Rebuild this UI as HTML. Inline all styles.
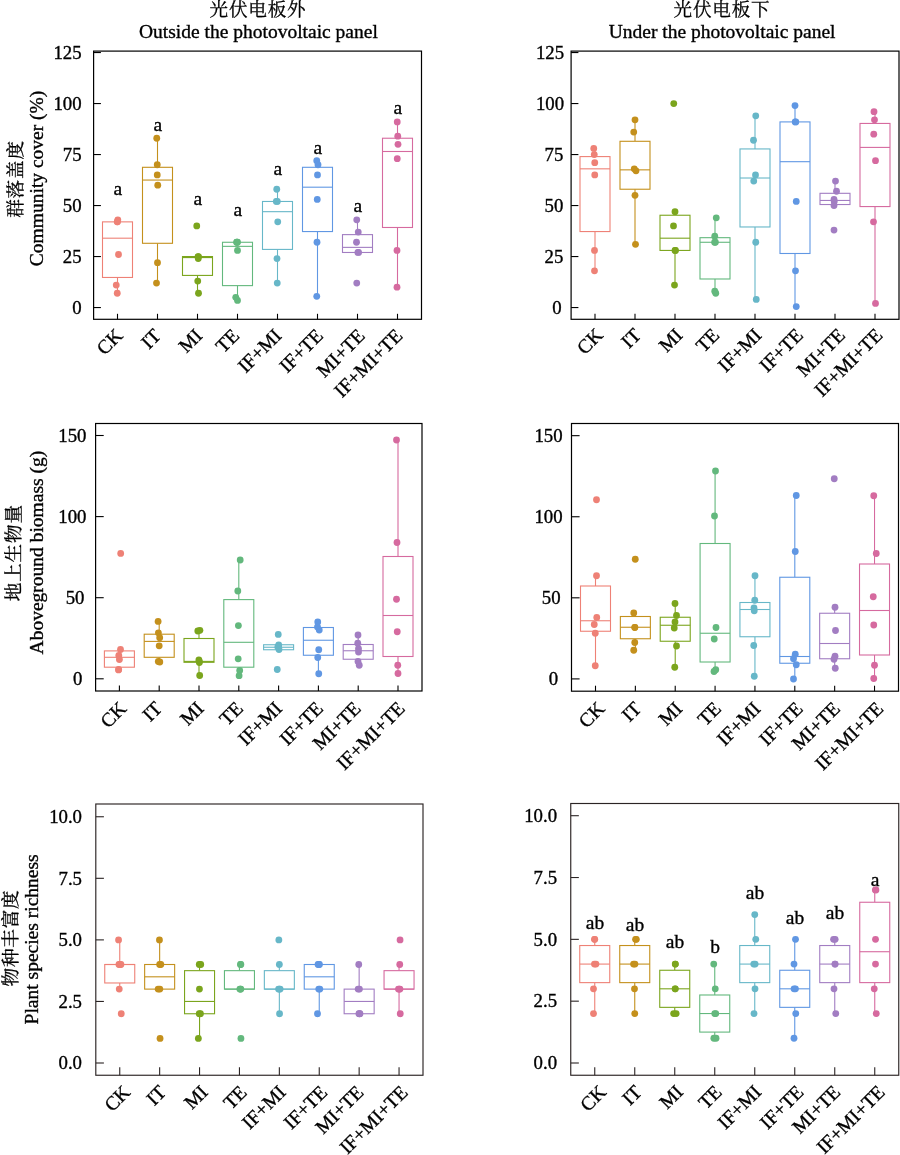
<!DOCTYPE html>
<html lang="zh">
<head>
<meta charset="utf-8">
<title>Boxplots</title>
<style>
html,body{margin:0;padding:0;background:#fff;}
body{width:900px;height:1155px;overflow:hidden;}
svg{display:block;}
text{font-family:"Liberation Serif","Noto Serif CJK SC",serif;font-size:19.5px;fill:#000;stroke:#000;stroke-width:0.35px;}
text.tk{font-size:18.8px;}
text.cn{font-family:"Liberation Serif","Noto Serif CJK SC",serif;font-weight:400;font-size:18.6px;letter-spacing:0.8px;stroke-width:0.3px;}
</style>
</head>
<body>
<svg width="900" height="1155" viewBox="0 0 900 1155">
<rect x="0" y="0" width="900" height="1155" fill="#fff"/>
<g>
<g stroke="#EE8176" fill="none" stroke-width="1.1">
<line x1="117.5" y1="219.83" x2="117.5" y2="221.87"/>
<line x1="117.5" y1="277.46" x2="117.5" y2="293.27"/>
<rect x="102.5" y="221.87" width="30" height="55.59" fill="#fff"/>
<line x1="102.5" y1="238.19" x2="132.5" y2="238.19"/>
</g>
<g fill="#EE8176">
<circle cx="117.8" cy="219.83" r="3.4"/>
<circle cx="117.2" cy="221.87" r="3.4"/>
<circle cx="117.5" cy="221.87" r="3.4"/>
<circle cx="118.5" cy="254.51" r="3.4"/>
<circle cx="116.25" cy="285.11" r="3.4"/>
<circle cx="117.25" cy="293.27" r="3.4"/>
</g>
<g stroke="#C4901C" fill="none" stroke-width="1.1">
<line x1="157.5" y1="138.23" x2="157.5" y2="167.3"/>
<line x1="157.5" y1="243.29" x2="157.5" y2="283.07"/>
<rect x="142.5" y="167.3" width="30" height="75.99" fill="#fff"/>
<line x1="142.5" y1="180.05" x2="172.5" y2="180.05"/>
</g>
<g fill="#C4901C">
<circle cx="156.75" cy="138.23" r="3.4"/>
<circle cx="157.25" cy="164.75" r="3.4"/>
<circle cx="157.25" cy="174.95" r="3.4"/>
<circle cx="157.75" cy="185.15" r="3.4"/>
<circle cx="157.5" cy="262.67" r="3.4"/>
<circle cx="156.5" cy="283.07" r="3.4"/>
</g>
<g stroke="#7BA51D" fill="none" stroke-width="1.1">
<line x1="197.5" y1="275.42" x2="197.5" y2="293.27"/>
<rect x="182.5" y="256.55" width="30" height="18.87" fill="#fff"/>
<line x1="182.5" y1="257.57" x2="212.5" y2="257.57"/>
</g>
<g fill="#7BA51D">
<circle cx="196.75" cy="225.95" r="3.4"/>
<circle cx="198.4" cy="256.55" r="3.4"/>
<circle cx="198.1" cy="256.55" r="3.4"/>
<circle cx="198.25" cy="258.59" r="3.4"/>
<circle cx="197.75" cy="281.03" r="3.4"/>
<circle cx="198.5" cy="293.27" r="3.4"/>
</g>
<g stroke="#63B87D" fill="none" stroke-width="1.1">
<line x1="237.5" y1="285.62" x2="237.5" y2="300.41"/>
<rect x="222.5" y="242.27" width="30" height="43.35" fill="#fff"/>
<line x1="222.5" y1="246.35" x2="252.5" y2="246.35"/>
</g>
<g fill="#63B87D">
<circle cx="236.6" cy="242.27" r="3.4"/>
<circle cx="237.5" cy="242.27" r="3.4"/>
<circle cx="237" cy="242.27" r="3.4"/>
<circle cx="237.5" cy="250.43" r="3.4"/>
<circle cx="235.75" cy="297.35" r="3.4"/>
<circle cx="237.5" cy="300.41" r="3.4"/>
</g>
<g stroke="#67B7C8" fill="none" stroke-width="1.1">
<line x1="277.5" y1="189.23" x2="277.5" y2="201.47"/>
<line x1="277.5" y1="249.41" x2="277.5" y2="283.07"/>
<rect x="262.5" y="201.47" width="30" height="47.94" fill="#fff"/>
<line x1="262.5" y1="211.67" x2="292.5" y2="211.67"/>
</g>
<g fill="#67B7C8">
<circle cx="276.75" cy="189.23" r="3.4"/>
<circle cx="276.3" cy="201.47" r="3.4"/>
<circle cx="277.3" cy="201.47" r="3.4"/>
<circle cx="277.75" cy="221.87" r="3.4"/>
<circle cx="277" cy="258.59" r="3.4"/>
<circle cx="277.25" cy="283.07" r="3.4"/>
</g>
<g stroke="#6097E3" fill="none" stroke-width="1.1">
<line x1="317.5" y1="160.67" x2="317.5" y2="167.3"/>
<line x1="317.5" y1="231.56" x2="317.5" y2="296.33"/>
<rect x="302.5" y="167.3" width="30" height="64.26" fill="#fff"/>
<line x1="302.5" y1="187.19" x2="332.5" y2="187.19"/>
</g>
<g fill="#6097E3">
<circle cx="316.75" cy="160.67" r="3.4"/>
<circle cx="318" cy="164.75" r="3.4"/>
<circle cx="317.5" cy="174.95" r="3.4"/>
<circle cx="317.25" cy="199.43" r="3.4"/>
<circle cx="317" cy="242.27" r="3.4"/>
<circle cx="316.75" cy="296.33" r="3.4"/>
</g>
<g stroke="#A27DC2" fill="none" stroke-width="1.1">
<line x1="357.5" y1="219.83" x2="357.5" y2="234.62"/>
<rect x="342.5" y="234.62" width="30" height="17.85" fill="#fff"/>
<line x1="342.5" y1="247.37" x2="372.5" y2="247.37"/>
</g>
<g fill="#A27DC2">
<circle cx="356.75" cy="219.83" r="3.4"/>
<circle cx="358.25" cy="232.07" r="3.4"/>
<circle cx="356.5" cy="242.27" r="3.4"/>
<circle cx="357.9" cy="252.47" r="3.4"/>
<circle cx="358.6" cy="252.47" r="3.4"/>
<circle cx="356.75" cy="283.07" r="3.4"/>
</g>
<g stroke="#D66A9F" fill="none" stroke-width="1.1">
<line x1="397.5" y1="121.91" x2="397.5" y2="138.23"/>
<line x1="397.5" y1="227.48" x2="397.5" y2="287.15"/>
<rect x="382.5" y="138.23" width="30" height="89.25" fill="#fff"/>
<line x1="382.5" y1="151.49" x2="412.5" y2="151.49"/>
</g>
<g fill="#D66A9F">
<circle cx="397.25" cy="121.91" r="3.4"/>
<circle cx="397.75" cy="136.19" r="3.4"/>
<circle cx="398" cy="144.35" r="3.4"/>
<circle cx="397.25" cy="158.63" r="3.4"/>
<circle cx="397" cy="250.43" r="3.4"/>
<circle cx="397" cy="287.15" r="3.4"/>
</g>
<text x="117.8" y="195" text-anchor="middle">a</text>
<text x="157.8" y="130.5" text-anchor="middle">a</text>
<text x="197.8" y="205" text-anchor="middle">a</text>
<text x="237.8" y="215.75" text-anchor="middle">a</text>
<text x="277.8" y="175" text-anchor="middle">a</text>
<text x="317.8" y="154.25" text-anchor="middle">a</text>
<text x="357.8" y="211.5" text-anchor="middle">a</text>
<text x="397.8" y="113.75" text-anchor="middle">a</text>
<g stroke="#000" stroke-width="1.1" fill="none">
<line x1="93.6" y1="307.55" x2="100.9" y2="307.55"/>
<line x1="93.6" y1="256.55" x2="100.9" y2="256.55"/>
<line x1="93.6" y1="205.55" x2="100.9" y2="205.55"/>
<line x1="93.6" y1="154.55" x2="100.9" y2="154.55"/>
<line x1="93.6" y1="103.55" x2="100.9" y2="103.55"/>
<line x1="93.6" y1="52.55" x2="100.9" y2="52.55"/>
<line x1="117.5" y1="319.3" x2="117.5" y2="313.8"/>
<line x1="157.5" y1="319.3" x2="157.5" y2="313.8"/>
<line x1="197.5" y1="319.3" x2="197.5" y2="313.8"/>
<line x1="237.5" y1="319.3" x2="237.5" y2="313.8"/>
<line x1="277.5" y1="319.3" x2="277.5" y2="313.8"/>
<line x1="317.5" y1="319.3" x2="317.5" y2="313.8"/>
<line x1="357.5" y1="319.3" x2="357.5" y2="313.8"/>
<line x1="397.5" y1="319.3" x2="397.5" y2="313.8"/>
</g>
<rect x="93.6" y="51.1" width="327.9" height="268.2" fill="none" stroke="#000" stroke-width="1.2"/>
<text class="tk" x="81.6" y="313.85" text-anchor="end">0</text>
<text class="tk" x="81.6" y="262.85" text-anchor="end">25</text>
<text class="tk" x="81.6" y="211.85" text-anchor="end">50</text>
<text class="tk" x="81.6" y="160.85" text-anchor="end">75</text>
<text class="tk" x="81.6" y="109.85" text-anchor="end">100</text>
<text class="tk" x="81.6" y="58.85" text-anchor="end">125</text>
<text transform="translate(123.75,336.9) rotate(-45)" text-anchor="end">CK</text>
<text transform="translate(162,336.9) rotate(-45)" text-anchor="end">IT</text>
<text transform="translate(203.4,336.9) rotate(-45)" text-anchor="end">MI</text>
<text transform="translate(240.4,336.9) rotate(-45)" text-anchor="end">TE</text>
<text transform="translate(282.6,336.9) rotate(-45)" text-anchor="end">IF+MI</text>
<text transform="translate(324.1,336.9) rotate(-45)" text-anchor="end">IF+TE</text>
<text transform="translate(366,336.9) rotate(-45)" text-anchor="end">MI+TE</text>
<text transform="translate(403.6,336.9) rotate(-45)" text-anchor="end">IF+MI+TE</text>
<text class="cn" x="258" y="15.9" text-anchor="middle">光伏电板外</text>
<text x="258.4" y="38.3" text-anchor="middle">Outside the photovoltaic panel</text>
<text class="cn" transform="translate(22.3,179) rotate(-90)" text-anchor="middle">群落盖度</text>
<text transform="translate(43.4,178.4) rotate(-90)" text-anchor="middle">Community cover (%)</text>
</g>
<g>
<g stroke="#EE8176" fill="none" stroke-width="1.1">
<line x1="595" y1="148.43" x2="595" y2="156.59"/>
<line x1="595" y1="231.56" x2="595" y2="270.83"/>
<rect x="580" y="156.59" width="30" height="74.97" fill="#fff"/>
<line x1="580" y1="168.83" x2="610" y2="168.83"/>
</g>
<g fill="#EE8176">
<circle cx="593.75" cy="148.43" r="3.4"/>
<circle cx="594.25" cy="154.55" r="3.4"/>
<circle cx="594.75" cy="162.71" r="3.4"/>
<circle cx="594.75" cy="174.95" r="3.4"/>
<circle cx="594.5" cy="250.43" r="3.4"/>
<circle cx="594.5" cy="270.83" r="3.4"/>
</g>
<g stroke="#C4901C" fill="none" stroke-width="1.1">
<line x1="635" y1="119.87" x2="635" y2="141.29"/>
<line x1="635" y1="189.23" x2="635" y2="244.31"/>
<rect x="620" y="141.29" width="30" height="47.94" fill="#fff"/>
<line x1="620" y1="169.85" x2="650" y2="169.85"/>
</g>
<g fill="#C4901C">
<circle cx="635" cy="119.87" r="3.4"/>
<circle cx="633.75" cy="132.11" r="3.4"/>
<circle cx="634.25" cy="168.83" r="3.4"/>
<circle cx="636" cy="170.87" r="3.4"/>
<circle cx="635" cy="195.35" r="3.4"/>
<circle cx="635.5" cy="244.31" r="3.4"/>
</g>
<g stroke="#7BA51D" fill="none" stroke-width="1.1">
<line x1="675" y1="211.67" x2="675" y2="215.24"/>
<line x1="675" y1="250.43" x2="675" y2="285.11"/>
<rect x="660" y="215.24" width="30" height="35.19" fill="#fff"/>
<line x1="660" y1="238.19" x2="690" y2="238.19"/>
</g>
<g fill="#7BA51D">
<circle cx="673.75" cy="103.55" r="3.4"/>
<circle cx="675" cy="211.67" r="3.4"/>
<circle cx="673.5" cy="225.95" r="3.4"/>
<circle cx="675" cy="250.43" r="3.4"/>
<circle cx="675.5" cy="250.43" r="3.4"/>
<circle cx="674.5" cy="285.11" r="3.4"/>
</g>
<g stroke="#63B87D" fill="none" stroke-width="1.1">
<line x1="715" y1="217.79" x2="715" y2="237.68"/>
<line x1="715" y1="278.99" x2="715" y2="293.27"/>
<rect x="700" y="237.68" width="30" height="41.31" fill="#fff"/>
<line x1="700" y1="242.27" x2="730" y2="242.27"/>
</g>
<g fill="#63B87D">
<circle cx="716.25" cy="217.79" r="3.4"/>
<circle cx="714.75" cy="236.15" r="3.4"/>
<circle cx="714.6" cy="242.27" r="3.4"/>
<circle cx="715.4" cy="242.27" r="3.4"/>
<circle cx="714.75" cy="291.23" r="3.4"/>
<circle cx="715.75" cy="293.27" r="3.4"/>
</g>
<g stroke="#67B7C8" fill="none" stroke-width="1.1">
<line x1="755" y1="115.79" x2="755" y2="148.94"/>
<line x1="755" y1="226.97" x2="755" y2="299.39"/>
<rect x="740" y="148.94" width="30" height="78.03" fill="#fff"/>
<line x1="740" y1="178.01" x2="770" y2="178.01"/>
</g>
<g fill="#67B7C8">
<circle cx="755.75" cy="115.79" r="3.4"/>
<circle cx="753.5" cy="140.27" r="3.4"/>
<circle cx="755.5" cy="174.95" r="3.4"/>
<circle cx="753.75" cy="181.07" r="3.4"/>
<circle cx="755.75" cy="242.27" r="3.4"/>
<circle cx="756.25" cy="299.39" r="3.4"/>
</g>
<g stroke="#6097E3" fill="none" stroke-width="1.1">
<line x1="795" y1="105.59" x2="795" y2="121.91"/>
<line x1="795" y1="253.49" x2="795" y2="306.53"/>
<rect x="780" y="121.91" width="30" height="131.58" fill="#fff"/>
<line x1="780" y1="161.69" x2="810" y2="161.69"/>
</g>
<g fill="#6097E3">
<circle cx="795" cy="105.59" r="3.4"/>
<circle cx="795.2" cy="121.91" r="3.4"/>
<circle cx="795.8" cy="121.91" r="3.4"/>
<circle cx="796.25" cy="201.47" r="3.4"/>
<circle cx="795.5" cy="270.83" r="3.4"/>
<circle cx="796.25" cy="306.53" r="3.4"/>
</g>
<g stroke="#A27DC2" fill="none" stroke-width="1.1">
<line x1="835" y1="181.07" x2="835" y2="193.31"/>
<line x1="835" y1="204.53" x2="835" y2="205.55"/>
<rect x="820" y="193.31" width="30" height="11.22" fill="#fff"/>
<line x1="820" y1="200.45" x2="850" y2="200.45"/>
</g>
<g fill="#A27DC2">
<circle cx="835.5" cy="181.07" r="3.4"/>
<circle cx="836.5" cy="191.27" r="3.4"/>
<circle cx="834" cy="199.43" r="3.4"/>
<circle cx="834.25" cy="201.47" r="3.4"/>
<circle cx="834" cy="205.55" r="3.4"/>
<circle cx="834" cy="230.03" r="3.4"/>
</g>
<g stroke="#D66A9F" fill="none" stroke-width="1.1">
<line x1="875" y1="111.71" x2="875" y2="123.44"/>
<line x1="875" y1="206.57" x2="875" y2="303.47"/>
<rect x="860" y="123.44" width="30" height="83.13" fill="#fff"/>
<line x1="860" y1="147.41" x2="890" y2="147.41"/>
</g>
<g fill="#D66A9F">
<circle cx="874" cy="111.71" r="3.4"/>
<circle cx="874.5" cy="119.87" r="3.4"/>
<circle cx="873.75" cy="134.15" r="3.4"/>
<circle cx="875.5" cy="160.67" r="3.4"/>
<circle cx="873.5" cy="221.87" r="3.4"/>
<circle cx="875.5" cy="303.47" r="3.4"/>
</g>
<g stroke="#000" stroke-width="1.1" fill="none">
<line x1="571.1" y1="307.55" x2="578.4" y2="307.55"/>
<line x1="571.1" y1="256.55" x2="578.4" y2="256.55"/>
<line x1="571.1" y1="205.55" x2="578.4" y2="205.55"/>
<line x1="571.1" y1="154.55" x2="578.4" y2="154.55"/>
<line x1="571.1" y1="103.55" x2="578.4" y2="103.55"/>
<line x1="571.1" y1="52.55" x2="578.4" y2="52.55"/>
<line x1="595" y1="319.3" x2="595" y2="313.8"/>
<line x1="635" y1="319.3" x2="635" y2="313.8"/>
<line x1="675" y1="319.3" x2="675" y2="313.8"/>
<line x1="715" y1="319.3" x2="715" y2="313.8"/>
<line x1="755" y1="319.3" x2="755" y2="313.8"/>
<line x1="795" y1="319.3" x2="795" y2="313.8"/>
<line x1="835" y1="319.3" x2="835" y2="313.8"/>
<line x1="875" y1="319.3" x2="875" y2="313.8"/>
</g>
<rect x="571.1" y="51.1" width="327.9" height="268.2" fill="none" stroke="#000" stroke-width="1.2"/>
<text class="tk" x="561.6" y="313.85" text-anchor="end">0</text>
<text class="tk" x="563.3" y="262.85" text-anchor="end">25</text>
<text class="tk" x="563.3" y="211.85" text-anchor="end">50</text>
<text class="tk" x="563.3" y="160.85" text-anchor="end">75</text>
<text class="tk" x="564.1" y="109.85" text-anchor="end">100</text>
<text class="tk" x="564.1" y="58.85" text-anchor="end">125</text>
<text transform="translate(603.85,336.3) rotate(-45)" text-anchor="end">CK</text>
<text transform="translate(642.1,336.3) rotate(-45)" text-anchor="end">IT</text>
<text transform="translate(683.5,336.3) rotate(-45)" text-anchor="end">MI</text>
<text transform="translate(720.5,336.3) rotate(-45)" text-anchor="end">TE</text>
<text transform="translate(762.7,336.3) rotate(-45)" text-anchor="end">IF+MI</text>
<text transform="translate(804.2,336.3) rotate(-45)" text-anchor="end">IF+TE</text>
<text transform="translate(846.1,336.3) rotate(-45)" text-anchor="end">MI+TE</text>
<text transform="translate(883.7,336.3) rotate(-45)" text-anchor="end">IF+MI+TE</text>
<text class="cn" x="722" y="15.9" text-anchor="middle">光伏电板下</text>
<text x="722.1" y="38.3" text-anchor="middle">Under the photovoltaic panel</text>
</g>
<g>
<g stroke="#EE8176" fill="none" stroke-width="1.1">
<line x1="119.4" y1="649.5" x2="119.4" y2="650.9"/>
<line x1="119.4" y1="667.2" x2="119.4" y2="669.8"/>
<rect x="104.4" y="650.9" width="30" height="16.3" fill="#fff"/>
<line x1="104.4" y1="657.3" x2="134.4" y2="657.3"/>
</g>
<g fill="#EE8176">
<circle cx="120.7" cy="553.4" r="3.4"/>
<circle cx="120.5" cy="649.5" r="3.4"/>
<circle cx="118.8" cy="655.5" r="3.4"/>
<circle cx="119.4" cy="659.5" r="3.4"/>
<circle cx="118.5" cy="669.9" r="3.4"/>
<circle cx="118.7" cy="669.5" r="3.4"/>
</g>
<g stroke="#C4901C" fill="none" stroke-width="1.1">
<line x1="159.2" y1="621.4" x2="159.2" y2="634.2"/>
<line x1="159.2" y1="657.3" x2="159.2" y2="661.7"/>
<rect x="144.2" y="634.2" width="30" height="23.1" fill="#fff"/>
<line x1="144.2" y1="641.4" x2="174.2" y2="641.4"/>
</g>
<g fill="#C4901C">
<circle cx="158.1" cy="621.4" r="3.4"/>
<circle cx="158.4" cy="632.8" r="3.4"/>
<circle cx="159.7" cy="637.7" r="3.4"/>
<circle cx="159.2" cy="645.8" r="3.4"/>
<circle cx="158.3" cy="661.5" r="3.4"/>
<circle cx="159.8" cy="662" r="3.4"/>
</g>
<g stroke="#7BA51D" fill="none" stroke-width="1.1">
<line x1="199" y1="630.6" x2="199" y2="638.5"/>
<line x1="199" y1="662.3" x2="199" y2="675.5"/>
<rect x="184" y="638.5" width="30" height="23.8" fill="#fff"/>
<line x1="184" y1="661.4" x2="214" y2="661.4"/>
</g>
<g fill="#7BA51D">
<circle cx="197.8" cy="631" r="3.4"/>
<circle cx="199.9" cy="630.3" r="3.4"/>
<circle cx="198.9" cy="660" r="3.4"/>
<circle cx="199.4" cy="662.5" r="3.4"/>
<circle cx="199.2" cy="661.2" r="3.4"/>
<circle cx="199.7" cy="675.5" r="3.4"/>
</g>
<g stroke="#63B87D" fill="none" stroke-width="1.1">
<line x1="238.8" y1="560" x2="238.8" y2="599.6"/>
<line x1="238.8" y1="667.2" x2="238.8" y2="675.7"/>
<rect x="223.8" y="599.6" width="30" height="67.6" fill="#fff"/>
<line x1="223.8" y1="642.3" x2="253.8" y2="642.3"/>
</g>
<g fill="#63B87D">
<circle cx="240.2" cy="560" r="3.4"/>
<circle cx="237.8" cy="591" r="3.4"/>
<circle cx="238.4" cy="625.6" r="3.4"/>
<circle cx="238.2" cy="658.8" r="3.4"/>
<circle cx="239.7" cy="670.5" r="3.4"/>
<circle cx="239.1" cy="675.7" r="3.4"/>
</g>
<g stroke="#67B7C8" fill="none" stroke-width="1.1">
<rect x="263.6" y="644.75" width="30" height="5" fill="#fff"/>
<line x1="263.6" y1="647.25" x2="293.6" y2="647.25"/>
</g>
<g fill="#67B7C8">
<circle cx="278.25" cy="634.4" r="3.4"/>
<circle cx="278.7" cy="645" r="3.4"/>
<circle cx="277.8" cy="647" r="3.4"/>
<circle cx="279" cy="649.5" r="3.4"/>
<circle cx="278.5" cy="646.5" r="3.4"/>
<circle cx="277.25" cy="669.5" r="3.4"/>
</g>
<g stroke="#6097E3" fill="none" stroke-width="1.1">
<line x1="318.4" y1="622" x2="318.4" y2="627.5"/>
<line x1="318.4" y1="655.25" x2="318.4" y2="673.75"/>
<rect x="303.4" y="627.5" width="30" height="27.75" fill="#fff"/>
<line x1="303.4" y1="640.25" x2="333.4" y2="640.25"/>
</g>
<g fill="#6097E3">
<circle cx="317.75" cy="622" r="3.4"/>
<circle cx="317.5" cy="627" r="3.4"/>
<circle cx="319.25" cy="630" r="3.4"/>
<circle cx="318.75" cy="649.75" r="3.4"/>
<circle cx="317.75" cy="657.5" r="3.4"/>
<circle cx="318.75" cy="673.75" r="3.4"/>
</g>
<g stroke="#A27DC2" fill="none" stroke-width="1.1">
<line x1="358.2" y1="635" x2="358.2" y2="644.5"/>
<line x1="358.2" y1="659.25" x2="358.2" y2="665.25"/>
<rect x="343.2" y="644.5" width="30" height="14.75" fill="#fff"/>
<line x1="343.2" y1="650.75" x2="373.2" y2="650.75"/>
</g>
<g fill="#A27DC2">
<circle cx="358" cy="635" r="3.4"/>
<circle cx="357.75" cy="643.25" r="3.4"/>
<circle cx="358.5" cy="648.75" r="3.4"/>
<circle cx="358.5" cy="652" r="3.4"/>
<circle cx="358" cy="661.5" r="3.4"/>
<circle cx="359.25" cy="665.25" r="3.4"/>
</g>
<g stroke="#D66A9F" fill="none" stroke-width="1.1">
<line x1="398" y1="440" x2="398" y2="556.5"/>
<line x1="398" y1="656.5" x2="398" y2="673.5"/>
<rect x="383" y="556.5" width="30" height="100" fill="#fff"/>
<line x1="383" y1="615.5" x2="413" y2="615.5"/>
</g>
<g fill="#D66A9F">
<circle cx="396.5" cy="440" r="3.4"/>
<circle cx="397" cy="542.5" r="3.4"/>
<circle cx="396.5" cy="599.25" r="3.4"/>
<circle cx="397.25" cy="631.75" r="3.4"/>
<circle cx="397.75" cy="665.25" r="3.4"/>
<circle cx="398" cy="673.5" r="3.4"/>
</g>
<g stroke="#000" stroke-width="1.1" fill="none">
<line x1="95.6" y1="678.8" x2="103.7" y2="678.8"/>
<line x1="95.6" y1="597.7" x2="103.7" y2="597.7"/>
<line x1="95.6" y1="516.6" x2="103.7" y2="516.6"/>
<line x1="95.6" y1="435.5" x2="103.7" y2="435.5"/>
<line x1="119.4" y1="691" x2="119.4" y2="685.5"/>
<line x1="159.2" y1="691" x2="159.2" y2="685.5"/>
<line x1="199" y1="691" x2="199" y2="685.5"/>
<line x1="238.8" y1="691" x2="238.8" y2="685.5"/>
<line x1="278.6" y1="691" x2="278.6" y2="685.5"/>
<line x1="318.4" y1="691" x2="318.4" y2="685.5"/>
<line x1="358.2" y1="691" x2="358.2" y2="685.5"/>
<line x1="398" y1="691" x2="398" y2="685.5"/>
</g>
<rect x="95.6" y="423.5" width="326.4" height="267.5" fill="none" stroke="#000" stroke-width="1.2"/>
<text class="tk" x="82.3" y="685.1" text-anchor="end">0</text>
<text class="tk" x="84.5" y="604" text-anchor="end">50</text>
<text class="tk" x="86.5" y="522.9" text-anchor="end">100</text>
<text class="tk" x="86.5" y="441.8" text-anchor="end">150</text>
<text transform="translate(127.35,709.9) rotate(-45)" text-anchor="end">CK</text>
<text transform="translate(163.2,709.6) rotate(-45)" text-anchor="end">IT</text>
<text transform="translate(204.9,709.6) rotate(-45)" text-anchor="end">MI</text>
<text transform="translate(244.2,709.6) rotate(-45)" text-anchor="end">TE</text>
<text transform="translate(283,709.6) rotate(-45)" text-anchor="end">IF+MI</text>
<text transform="translate(324.3,709.6) rotate(-45)" text-anchor="end">IF+TE</text>
<text transform="translate(362,709.6) rotate(-45)" text-anchor="end">MI+TE</text>
<text transform="translate(406,709.6) rotate(-45)" text-anchor="end">IF+MI+TE</text>
<text class="cn" transform="translate(20,552.7) rotate(-90)" text-anchor="middle">地上生物量</text>
<text transform="translate(42.7,552.6) rotate(-90)" text-anchor="middle">Aboveground biomass (g)</text>
</g>
<g>
<g stroke="#EE8176" fill="none" stroke-width="1.1">
<line x1="595.5" y1="575.75" x2="595.5" y2="586"/>
<line x1="595.5" y1="631.25" x2="595.5" y2="665.75"/>
<rect x="580.5" y="586" width="30" height="45.25" fill="#fff"/>
<line x1="580.5" y1="620.75" x2="610.5" y2="620.75"/>
</g>
<g fill="#EE8176">
<circle cx="596.5" cy="499.75" r="3.4"/>
<circle cx="596.5" cy="575.75" r="3.4"/>
<circle cx="596.75" cy="617.5" r="3.4"/>
<circle cx="594.25" cy="624.5" r="3.4"/>
<circle cx="595.25" cy="633.25" r="3.4"/>
<circle cx="595.25" cy="665.75" r="3.4"/>
</g>
<g stroke="#C4901C" fill="none" stroke-width="1.1">
<line x1="635.36" y1="613" x2="635.36" y2="616.5"/>
<line x1="635.36" y1="638.75" x2="635.36" y2="650.25"/>
<rect x="620.36" y="616.5" width="30" height="22.25" fill="#fff"/>
<line x1="620.36" y1="627.25" x2="650.36" y2="627.25"/>
</g>
<g fill="#C4901C">
<circle cx="635.25" cy="559.25" r="3.4"/>
<circle cx="633.75" cy="613" r="3.4"/>
<circle cx="634.75" cy="627.5" r="3.4"/>
<circle cx="634.9" cy="627.3" r="3.4"/>
<circle cx="634.75" cy="642.5" r="3.4"/>
<circle cx="633.75" cy="650.25" r="3.4"/>
</g>
<g stroke="#7BA51D" fill="none" stroke-width="1.1">
<line x1="675.22" y1="603.5" x2="675.22" y2="617.25"/>
<line x1="675.22" y1="641.25" x2="675.22" y2="667.25"/>
<rect x="660.22" y="617.25" width="30" height="24" fill="#fff"/>
<line x1="660.22" y1="625.25" x2="690.22" y2="625.25"/>
</g>
<g fill="#7BA51D">
<circle cx="675" cy="603.5" r="3.4"/>
<circle cx="676.5" cy="615.5" r="3.4"/>
<circle cx="675" cy="622" r="3.4"/>
<circle cx="674.25" cy="628" r="3.4"/>
<circle cx="676.5" cy="646" r="3.4"/>
<circle cx="674.75" cy="667.25" r="3.4"/>
</g>
<g stroke="#63B87D" fill="none" stroke-width="1.1">
<line x1="715.08" y1="471" x2="715.08" y2="543.5"/>
<line x1="715.08" y1="662" x2="715.08" y2="670.75"/>
<rect x="700.08" y="543.5" width="30" height="118.5" fill="#fff"/>
<line x1="700.08" y1="633.25" x2="730.08" y2="633.25"/>
</g>
<g fill="#63B87D">
<circle cx="715.5" cy="471" r="3.4"/>
<circle cx="714.5" cy="516" r="3.4"/>
<circle cx="716" cy="627.5" r="3.4"/>
<circle cx="714.25" cy="639" r="3.4"/>
<circle cx="715.75" cy="669.75" r="3.4"/>
<circle cx="714" cy="671.5" r="3.4"/>
</g>
<g stroke="#67B7C8" fill="none" stroke-width="1.1">
<line x1="754.94" y1="575.75" x2="754.94" y2="602.5"/>
<line x1="754.94" y1="636.75" x2="754.94" y2="676.25"/>
<rect x="739.94" y="602.5" width="30" height="34.25" fill="#fff"/>
<line x1="739.94" y1="609.5" x2="769.94" y2="609.5"/>
</g>
<g fill="#67B7C8">
<circle cx="755" cy="575.75" r="3.4"/>
<circle cx="754.75" cy="600.25" r="3.4"/>
<circle cx="754" cy="608" r="3.4"/>
<circle cx="754.25" cy="610.75" r="3.4"/>
<circle cx="753.75" cy="645.5" r="3.4"/>
<circle cx="754.25" cy="676.25" r="3.4"/>
</g>
<g stroke="#6097E3" fill="none" stroke-width="1.1">
<line x1="794.8" y1="495.5" x2="794.8" y2="577.25"/>
<line x1="794.8" y1="663.25" x2="794.8" y2="679"/>
<rect x="779.8" y="577.25" width="30" height="86" fill="#fff"/>
<line x1="779.8" y1="656.5" x2="809.8" y2="656.5"/>
</g>
<g fill="#6097E3">
<circle cx="796.25" cy="495.5" r="3.4"/>
<circle cx="795.25" cy="551.5" r="3.4"/>
<circle cx="795.25" cy="654.25" r="3.4"/>
<circle cx="793.5" cy="658.75" r="3.4"/>
<circle cx="796.25" cy="664.75" r="3.4"/>
<circle cx="793.5" cy="679" r="3.4"/>
</g>
<g stroke="#A27DC2" fill="none" stroke-width="1.1">
<line x1="834.66" y1="607.25" x2="834.66" y2="613.25"/>
<line x1="834.66" y1="658.75" x2="834.66" y2="668.25"/>
<rect x="819.66" y="613.25" width="30" height="45.5" fill="#fff"/>
<line x1="819.66" y1="643.5" x2="849.66" y2="643.5"/>
</g>
<g fill="#A27DC2">
<circle cx="834.25" cy="478.75" r="3.4"/>
<circle cx="835" cy="607.25" r="3.4"/>
<circle cx="835.5" cy="630.5" r="3.4"/>
<circle cx="835" cy="656.25" r="3.4"/>
<circle cx="834" cy="659.25" r="3.4"/>
<circle cx="835.25" cy="668.25" r="3.4"/>
</g>
<g stroke="#D66A9F" fill="none" stroke-width="1.1">
<line x1="874.52" y1="495.75" x2="874.52" y2="564"/>
<line x1="874.52" y1="655" x2="874.52" y2="678.5"/>
<rect x="859.52" y="564" width="30" height="91" fill="#fff"/>
<line x1="859.52" y1="610.5" x2="889.52" y2="610.5"/>
</g>
<g fill="#D66A9F">
<circle cx="873.75" cy="495.75" r="3.4"/>
<circle cx="876.25" cy="553.5" r="3.4"/>
<circle cx="873.25" cy="596.75" r="3.4"/>
<circle cx="873.75" cy="625" r="3.4"/>
<circle cx="874.5" cy="665.25" r="3.4"/>
<circle cx="873.75" cy="678.5" r="3.4"/>
</g>
<g stroke="#000" stroke-width="1.1" fill="none">
<line x1="571.5" y1="678.9" x2="579.6" y2="678.9"/>
<line x1="571.5" y1="597.82" x2="579.6" y2="597.82"/>
<line x1="571.5" y1="516.75" x2="579.6" y2="516.75"/>
<line x1="571.5" y1="435.67" x2="579.6" y2="435.67"/>
<line x1="595.5" y1="691.2" x2="595.5" y2="685.7"/>
<line x1="635.36" y1="691.2" x2="635.36" y2="685.7"/>
<line x1="675.22" y1="691.2" x2="675.22" y2="685.7"/>
<line x1="715.08" y1="691.2" x2="715.08" y2="685.7"/>
<line x1="754.94" y1="691.2" x2="754.94" y2="685.7"/>
<line x1="794.8" y1="691.2" x2="794.8" y2="685.7"/>
<line x1="834.66" y1="691.2" x2="834.66" y2="685.7"/>
<line x1="874.52" y1="691.2" x2="874.52" y2="685.7"/>
</g>
<rect x="571.5" y="423.5" width="327" height="267.7" fill="none" stroke="#000" stroke-width="1.2"/>
<text class="tk" x="558.2" y="685.2" text-anchor="end">0</text>
<text class="tk" x="560.6" y="604.12" text-anchor="end">50</text>
<text class="tk" x="562.6" y="523.05" text-anchor="end">100</text>
<text class="tk" x="562.6" y="441.97" text-anchor="end">150</text>
<text transform="translate(605.65,709.8) rotate(-45)" text-anchor="end">CK</text>
<text transform="translate(642.46,709.8) rotate(-45)" text-anchor="end">IT</text>
<text transform="translate(683.32,709.8) rotate(-45)" text-anchor="end">MI</text>
<text transform="translate(722.28,709.8) rotate(-45)" text-anchor="end">TE</text>
<text transform="translate(761.54,709.8) rotate(-45)" text-anchor="end">IF+MI</text>
<text transform="translate(804,709.8) rotate(-45)" text-anchor="end">IF+TE</text>
<text transform="translate(841.06,709.8) rotate(-45)" text-anchor="end">MI+TE</text>
<text transform="translate(884.52,709.8) rotate(-45)" text-anchor="end">IF+MI+TE</text>
</g>
<g>
<g stroke="#EE8176" fill="none" stroke-width="1.1">
<line x1="119.75" y1="939.88" x2="119.75" y2="964.5"/>
<line x1="119.75" y1="982.97" x2="119.75" y2="989.12"/>
<rect x="104.75" y="964.5" width="30" height="18.47" fill="#fff"/>
<line x1="104.75" y1="964.5" x2="134.75" y2="964.5"/>
</g>
<g fill="#EE8176">
<circle cx="118.55" cy="939.88" r="3.4"/>
<circle cx="118.95" cy="964.5" r="3.4"/>
<circle cx="120.95" cy="964.5" r="3.4"/>
<circle cx="119.95" cy="964.5" r="3.4"/>
<circle cx="119.25" cy="989.12" r="3.4"/>
<circle cx="121.25" cy="1013.75" r="3.4"/>
</g>
<g stroke="#C4901C" fill="none" stroke-width="1.1">
<line x1="159.65" y1="939.88" x2="159.65" y2="964.5"/>
<rect x="144.65" y="964.5" width="30" height="24.62" fill="#fff"/>
<line x1="144.65" y1="976.81" x2="174.65" y2="976.81"/>
</g>
<g fill="#C4901C">
<circle cx="159.45" cy="939.88" r="3.4"/>
<circle cx="159.65" cy="964.5" r="3.4"/>
<circle cx="160.85" cy="964.5" r="3.4"/>
<circle cx="158.15" cy="989.12" r="3.4"/>
<circle cx="159.85" cy="989.12" r="3.4"/>
<circle cx="160.05" cy="1038.38" r="3.4"/>
</g>
<g stroke="#7BA51D" fill="none" stroke-width="1.1">
<line x1="199.55" y1="964.5" x2="199.55" y2="970.66"/>
<line x1="199.55" y1="1013.75" x2="199.55" y2="1038.38"/>
<rect x="184.55" y="970.66" width="30" height="43.09" fill="#fff"/>
<line x1="184.55" y1="1001.44" x2="214.55" y2="1001.44"/>
</g>
<g fill="#7BA51D">
<circle cx="199.25" cy="964.5" r="3.4"/>
<circle cx="200.75" cy="964.5" r="3.4"/>
<circle cx="199.45" cy="989.12" r="3.4"/>
<circle cx="199.25" cy="1013.75" r="3.4"/>
<circle cx="200.45" cy="1013.75" r="3.4"/>
<circle cx="198.35" cy="1038.38" r="3.4"/>
</g>
<g stroke="#63B87D" fill="none" stroke-width="1.1">
<line x1="239.45" y1="964.5" x2="239.45" y2="970.66"/>
<rect x="224.45" y="970.66" width="30" height="18.47" fill="#fff"/>
<line x1="224.45" y1="989.12" x2="254.45" y2="989.12"/>
</g>
<g fill="#63B87D">
<circle cx="240.45" cy="964.5" r="3.4"/>
<circle cx="240.85" cy="964.5" r="3.4"/>
<circle cx="239.85" cy="989.12" r="3.4"/>
<circle cx="240.85" cy="989.12" r="3.4"/>
<circle cx="240.45" cy="989.12" r="3.4"/>
<circle cx="240.95" cy="1038.38" r="3.4"/>
</g>
<g stroke="#67B7C8" fill="none" stroke-width="1.1">
<line x1="279.35" y1="964.5" x2="279.35" y2="970.66"/>
<line x1="279.35" y1="989.12" x2="279.35" y2="1013.75"/>
<rect x="264.35" y="970.66" width="30" height="18.47" fill="#fff"/>
<line x1="264.35" y1="989.12" x2="294.35" y2="989.12"/>
</g>
<g fill="#67B7C8">
<circle cx="278.85" cy="939.88" r="3.4"/>
<circle cx="279.35" cy="964.5" r="3.4"/>
<circle cx="278.55" cy="989.12" r="3.4"/>
<circle cx="280.15" cy="989.12" r="3.4"/>
<circle cx="279.35" cy="989.12" r="3.4"/>
<circle cx="279.55" cy="1013.75" r="3.4"/>
</g>
<g stroke="#6097E3" fill="none" stroke-width="1.1">
<line x1="319.25" y1="989.12" x2="319.25" y2="1013.75"/>
<rect x="304.25" y="964.5" width="30" height="24.62" fill="#fff"/>
<line x1="304.25" y1="976.81" x2="334.25" y2="976.81"/>
</g>
<g fill="#6097E3">
<circle cx="318.05" cy="964.5" r="3.4"/>
<circle cx="319.45" cy="964.5" r="3.4"/>
<circle cx="318.85" cy="964.5" r="3.4"/>
<circle cx="318.75" cy="989.12" r="3.4"/>
<circle cx="319.85" cy="989.12" r="3.4"/>
<circle cx="317.5" cy="1013.75" r="3.4"/>
</g>
<g stroke="#A27DC2" fill="none" stroke-width="1.1">
<line x1="359.15" y1="964.5" x2="359.15" y2="989.12"/>
<rect x="344.15" y="989.12" width="30" height="24.62" fill="#fff"/>
<line x1="344.15" y1="1001.44" x2="374.15" y2="1001.44"/>
</g>
<g fill="#A27DC2">
<circle cx="358.75" cy="964.5" r="3.4"/>
<circle cx="358.15" cy="989.12" r="3.4"/>
<circle cx="359.45" cy="989.12" r="3.4"/>
<circle cx="359.95" cy="1013.75" r="3.4"/>
<circle cx="358.95" cy="1013.75" r="3.4"/>
<circle cx="359.55" cy="1013.75" r="3.4"/>
</g>
<g stroke="#D66A9F" fill="none" stroke-width="1.1">
<line x1="399.05" y1="964.5" x2="399.05" y2="970.66"/>
<line x1="399.05" y1="989.12" x2="399.05" y2="1013.75"/>
<rect x="384.05" y="970.66" width="30" height="18.47" fill="#fff"/>
<line x1="384.05" y1="989.12" x2="414.05" y2="989.12"/>
</g>
<g fill="#D66A9F">
<circle cx="400.05" cy="939.88" r="3.4"/>
<circle cx="399.75" cy="964.5" r="3.4"/>
<circle cx="398.45" cy="989.12" r="3.4"/>
<circle cx="399.95" cy="989.12" r="3.4"/>
<circle cx="399.25" cy="989.12" r="3.4"/>
<circle cx="400.25" cy="1013.75" r="3.4"/>
</g>
<g stroke="#2b2424" stroke-width="1.1" fill="none">
<line x1="95.8" y1="1063" x2="103.9" y2="1063"/>
<line x1="95.8" y1="1001.44" x2="103.9" y2="1001.44"/>
<line x1="95.8" y1="939.88" x2="103.9" y2="939.88"/>
<line x1="95.8" y1="878.31" x2="103.9" y2="878.31"/>
<line x1="95.8" y1="816.75" x2="103.9" y2="816.75"/>
<line x1="119.75" y1="1075.25" x2="119.75" y2="1067.15"/>
<line x1="159.65" y1="1075.25" x2="159.65" y2="1067.15"/>
<line x1="199.55" y1="1075.25" x2="199.55" y2="1067.15"/>
<line x1="239.45" y1="1075.25" x2="239.45" y2="1067.15"/>
<line x1="279.35" y1="1075.25" x2="279.35" y2="1067.15"/>
<line x1="319.25" y1="1075.25" x2="319.25" y2="1067.15"/>
<line x1="359.15" y1="1075.25" x2="359.15" y2="1067.15"/>
<line x1="399.05" y1="1075.25" x2="399.05" y2="1067.15"/>
</g>
<rect x="95.8" y="804" width="327.2" height="271.25" fill="none" stroke="#2b2424" stroke-width="1.15"/>
<text class="tk" x="82" y="1069.3" text-anchor="end">0.0</text>
<text class="tk" x="82" y="1007.74" text-anchor="end">2.5</text>
<text class="tk" x="82" y="946.17" text-anchor="end">5.0</text>
<text class="tk" x="82" y="884.61" text-anchor="end">7.5</text>
<text class="tk" x="82" y="823.05" text-anchor="end">10.0</text>
<text transform="translate(131.3,1093.45) rotate(-45)" text-anchor="end">CK</text>
<text transform="translate(167.15,1093.45) rotate(-45)" text-anchor="end">IT</text>
<text transform="translate(208.85,1093.45) rotate(-45)" text-anchor="end">MI</text>
<text transform="translate(248.05,1093.45) rotate(-45)" text-anchor="end">TE</text>
<text transform="translate(286.75,1093.45) rotate(-45)" text-anchor="end">IF+MI</text>
<text transform="translate(328.45,1093.45) rotate(-45)" text-anchor="end">IF+TE</text>
<text transform="translate(364.65,1093.45) rotate(-45)" text-anchor="end">MI+TE</text>
<text transform="translate(408.95,1093.45) rotate(-45)" text-anchor="end">IF+MI+TE</text>
<text class="cn" transform="translate(16.5,938) rotate(-90)" text-anchor="middle">物种丰富度</text>
<text transform="translate(37.7,939.4) rotate(-90)" text-anchor="middle">Plant species richness</text>
</g>
<g>
<g stroke="#EE8176" fill="none" stroke-width="1.1">
<line x1="594.75" y1="939.35" x2="594.75" y2="945.53"/>
<line x1="594.75" y1="982.63" x2="594.75" y2="1013.54"/>
<rect x="579.75" y="945.53" width="30" height="37.1" fill="#fff"/>
<line x1="579.75" y1="964.08" x2="609.75" y2="964.08"/>
</g>
<g fill="#EE8176">
<circle cx="594.5" cy="939.35" r="3.4"/>
<circle cx="594.75" cy="939.35" r="3.4"/>
<circle cx="594.45" cy="964.08" r="3.4"/>
<circle cx="595.95" cy="964.08" r="3.4"/>
<circle cx="593.5" cy="988.81" r="3.4"/>
<circle cx="593.5" cy="1013.54" r="3.4"/>
</g>
<g stroke="#C4901C" fill="none" stroke-width="1.1">
<line x1="634.75" y1="939.35" x2="634.75" y2="945.53"/>
<line x1="634.75" y1="982.63" x2="634.75" y2="1013.54"/>
<rect x="619.75" y="945.53" width="30" height="37.1" fill="#fff"/>
<line x1="619.75" y1="964.08" x2="649.75" y2="964.08"/>
</g>
<g fill="#C4901C">
<circle cx="635.55" cy="939.35" r="3.4"/>
<circle cx="636.35" cy="939.35" r="3.4"/>
<circle cx="633.55" cy="964.08" r="3.4"/>
<circle cx="634.95" cy="964.08" r="3.4"/>
<circle cx="634.5" cy="988.81" r="3.4"/>
<circle cx="634.75" cy="1013.54" r="3.4"/>
</g>
<g stroke="#7BA51D" fill="none" stroke-width="1.1">
<line x1="674.75" y1="964.08" x2="674.75" y2="970.26"/>
<line x1="674.75" y1="1007.36" x2="674.75" y2="1013.54"/>
<rect x="659.75" y="970.26" width="30" height="37.09" fill="#fff"/>
<line x1="659.75" y1="988.81" x2="689.75" y2="988.81"/>
</g>
<g fill="#7BA51D">
<circle cx="675.25" cy="964.08" r="3.4"/>
<circle cx="675.35" cy="964.08" r="3.4"/>
<circle cx="675.25" cy="988.81" r="3.4"/>
<circle cx="675.15" cy="988.81" r="3.4"/>
<circle cx="673.65" cy="1013.54" r="3.4"/>
<circle cx="676.15" cy="1013.54" r="3.4"/>
</g>
<g stroke="#63B87D" fill="none" stroke-width="1.1">
<line x1="714.75" y1="964.08" x2="714.75" y2="994.99"/>
<line x1="714.75" y1="1032.09" x2="714.75" y2="1038.27"/>
<rect x="699.75" y="994.99" width="30" height="37.1" fill="#fff"/>
<line x1="699.75" y1="1013.54" x2="729.75" y2="1013.54"/>
</g>
<g fill="#63B87D">
<circle cx="713.75" cy="964.08" r="3.4"/>
<circle cx="715.25" cy="988.81" r="3.4"/>
<circle cx="714.75" cy="1013.54" r="3.4"/>
<circle cx="715.75" cy="1013.54" r="3.4"/>
<circle cx="713.85" cy="1038.27" r="3.4"/>
<circle cx="716.05" cy="1038.27" r="3.4"/>
</g>
<g stroke="#67B7C8" fill="none" stroke-width="1.1">
<line x1="754.75" y1="914.62" x2="754.75" y2="945.53"/>
<line x1="754.75" y1="982.63" x2="754.75" y2="1013.54"/>
<rect x="739.75" y="945.53" width="30" height="37.1" fill="#fff"/>
<line x1="739.75" y1="964.08" x2="769.75" y2="964.08"/>
</g>
<g fill="#67B7C8">
<circle cx="754.75" cy="914.62" r="3.4"/>
<circle cx="755.75" cy="939.35" r="3.4"/>
<circle cx="753.75" cy="964.08" r="3.4"/>
<circle cx="755.15" cy="964.08" r="3.4"/>
<circle cx="755" cy="988.81" r="3.4"/>
<circle cx="754" cy="1013.54" r="3.4"/>
</g>
<g stroke="#6097E3" fill="none" stroke-width="1.1">
<line x1="794.75" y1="939.35" x2="794.75" y2="970.26"/>
<line x1="794.75" y1="1007.36" x2="794.75" y2="1038.27"/>
<rect x="779.75" y="970.26" width="30" height="37.09" fill="#fff"/>
<line x1="779.75" y1="988.81" x2="809.75" y2="988.81"/>
</g>
<g fill="#6097E3">
<circle cx="795.5" cy="939.35" r="3.4"/>
<circle cx="794" cy="964.08" r="3.4"/>
<circle cx="794.05" cy="988.81" r="3.4"/>
<circle cx="795.45" cy="988.81" r="3.4"/>
<circle cx="795.75" cy="1013.54" r="3.4"/>
<circle cx="794" cy="1038.27" r="3.4"/>
</g>
<g stroke="#A27DC2" fill="none" stroke-width="1.1">
<line x1="834.75" y1="939.35" x2="834.75" y2="945.53"/>
<line x1="834.75" y1="982.63" x2="834.75" y2="1013.54"/>
<rect x="819.75" y="945.53" width="30" height="37.1" fill="#fff"/>
<line x1="819.75" y1="964.08" x2="849.75" y2="964.08"/>
</g>
<g fill="#A27DC2">
<circle cx="833.55" cy="939.35" r="3.4"/>
<circle cx="835.15" cy="939.35" r="3.4"/>
<circle cx="835" cy="964.08" r="3.4"/>
<circle cx="835.05" cy="964.08" r="3.4"/>
<circle cx="834" cy="988.81" r="3.4"/>
<circle cx="835.75" cy="1013.54" r="3.4"/>
</g>
<g stroke="#D66A9F" fill="none" stroke-width="1.1">
<line x1="874.75" y1="889.89" x2="874.75" y2="902.25"/>
<line x1="874.75" y1="982.63" x2="874.75" y2="1013.54"/>
<rect x="859.75" y="902.25" width="30" height="80.37" fill="#fff"/>
<line x1="859.75" y1="951.72" x2="889.75" y2="951.72"/>
</g>
<g fill="#D66A9F">
<circle cx="875.35" cy="889.89" r="3.4"/>
<circle cx="875.95" cy="889.89" r="3.4"/>
<circle cx="875.5" cy="939.35" r="3.4"/>
<circle cx="875.5" cy="964.08" r="3.4"/>
<circle cx="874.25" cy="988.81" r="3.4"/>
<circle cx="876.25" cy="1013.54" r="3.4"/>
</g>
<text x="595.05" y="928.75" text-anchor="middle">ab</text>
<text x="635.05" y="931.25" text-anchor="middle">ab</text>
<text x="675.05" y="948.25" text-anchor="middle">ab</text>
<text x="715.05" y="952.75" text-anchor="middle">b</text>
<text x="755.05" y="899" text-anchor="middle">ab</text>
<text x="795.05" y="923.75" text-anchor="middle">ab</text>
<text x="835.05" y="918.75" text-anchor="middle">ab</text>
<text x="875.05" y="885.75" text-anchor="middle">a</text>
<g stroke="#2b2424" stroke-width="1.1" fill="none">
<line x1="570.75" y1="1063" x2="578.85" y2="1063"/>
<line x1="570.75" y1="1001.17" x2="578.85" y2="1001.17"/>
<line x1="570.75" y1="939.35" x2="578.85" y2="939.35"/>
<line x1="570.75" y1="877.52" x2="578.85" y2="877.52"/>
<line x1="570.75" y1="815.7" x2="578.85" y2="815.7"/>
<line x1="594.75" y1="1075.25" x2="594.75" y2="1067.15"/>
<line x1="634.75" y1="1075.25" x2="634.75" y2="1067.15"/>
<line x1="674.75" y1="1075.25" x2="674.75" y2="1067.15"/>
<line x1="714.75" y1="1075.25" x2="714.75" y2="1067.15"/>
<line x1="754.75" y1="1075.25" x2="754.75" y2="1067.15"/>
<line x1="794.75" y1="1075.25" x2="794.75" y2="1067.15"/>
<line x1="834.75" y1="1075.25" x2="834.75" y2="1067.15"/>
<line x1="874.75" y1="1075.25" x2="874.75" y2="1067.15"/>
</g>
<rect x="570.75" y="803.5" width="328" height="271.75" fill="none" stroke="#2b2424" stroke-width="1.15"/>
<text class="tk" x="557.1" y="1069.3" text-anchor="end">0.0</text>
<text class="tk" x="557.1" y="1007.47" text-anchor="end">2.5</text>
<text class="tk" x="557.1" y="945.65" text-anchor="end">5.0</text>
<text class="tk" x="557.1" y="883.82" text-anchor="end">7.5</text>
<text class="tk" x="557.1" y="822" text-anchor="end">10.0</text>
<text transform="translate(607.2,1093.25) rotate(-45)" text-anchor="end">CK</text>
<text transform="translate(642.95,1093.25) rotate(-45)" text-anchor="end">IT</text>
<text transform="translate(684.05,1093.25) rotate(-45)" text-anchor="end">MI</text>
<text transform="translate(723.05,1093.25) rotate(-45)" text-anchor="end">TE</text>
<text transform="translate(762.45,1093.25) rotate(-45)" text-anchor="end">IF+MI</text>
<text transform="translate(804.75,1093.25) rotate(-45)" text-anchor="end">IF+TE</text>
<text transform="translate(841.55,1093.25) rotate(-45)" text-anchor="end">MI+TE</text>
<text transform="translate(886.05,1093.25) rotate(-45)" text-anchor="end">IF+MI+TE</text>
</g>
</svg>
</body>
</html>
